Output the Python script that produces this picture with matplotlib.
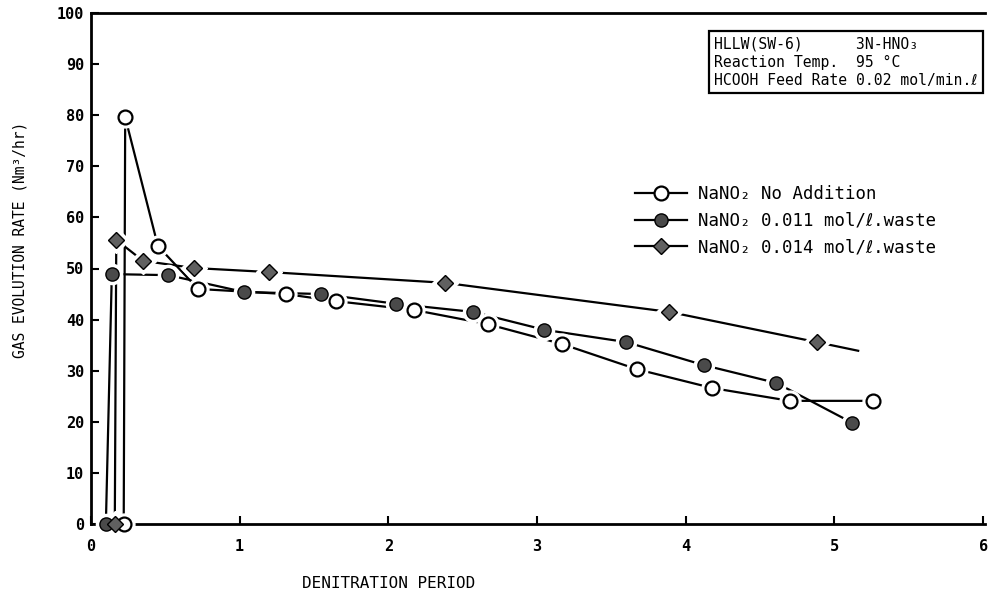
import matplotlib
matplotlib.use("Agg")
import matplotlib.pyplot as plt
from matplotlib.lines import Line2D

plt.rcParams['font.family'] = ['DejaVu Sans Mono', 'DejaVu Sans']

# ---- data ----
x_none = [0.22, 0.23, 0.45, 0.72, 1.31, 1.65, 2.17, 2.67, 3.17, 3.67, 4.18, 4.70, 5.26]
y_none = [0, 79.6, 54.4, 46.0, 45.0, 43.6, 41.9, 39.1, 35.2, 30.3, 26.6, 24.1, 24.1]

x_011 = [0.10, 0.14, 0.52, 1.03, 1.55, 2.05, 2.57, 3.05, 3.60, 4.12, 4.61, 5.12]
y_011 = [0, 48.9, 48.7, 45.4, 45.0, 43.1, 41.5, 38.0, 35.6, 31.1, 27.6, 19.8]

x_014 = [0.16, 0.17, 0.35, 0.69, 1.20, 2.38, 3.89, 4.88]
y_014 = [0, 55.6, 51.5, 50.1, 49.3, 47.2, 41.5, 35.6]
x_014_curve_end = [5.16]
y_014_curve_end = [33.9]

labels = ["NaNO\u2082 No Addition",
          "NaNO\u2082 0.011 mol/\u2113.waste",
          "NaNO\u2082 0.014 mol/\u2113.waste"]

x_ticks = [0, 1, 2, 3, 4, 5, 6]
y_ticks = [0, 10, 20, 30, 40, 50, 60, 70, 80, 90, 100]

info_lines = ["HLLW(SW-6)      3N-HNO\u2083",
              "Reaction Temp.  95 \u00b0C",
              "HCOOH Feed Rate 0.02 mol/min.\u2113"]

# ---- figure ----
fig = plt.figure(figsize=(9.88, 5.95), dpi=100)
ax = fig.add_axes([91/988, 1-524/595, (985-91)/988, (524-13)/595])
ax.set_xlim(0, 6.013)
ax.set_ylim(0, 100)

lw = 1.6
styles = [
    dict(marker='o', ms=10, mfc='white', mec='black', mew=1.6),
    dict(marker='o', ms=9.5, mfc='#4a4a4a', mec='black', mew=1.0),
    dict(marker='D', ms=8, mfc='#606060', mec='black', mew=1.0),
]

series = [(x_none, y_none), (x_011, y_011), (x_014, y_014)]
for i, ((xs, ys), st) in enumerate(zip(series, styles)):
    lx, ly = list(xs), list(ys)
    if i == 2:
        lx += x_014_curve_end
        ly += y_014_curve_end
    ax.plot(lx, ly, color='black', lw=lw, zorder=2, clip_on=False)
    # white halo to make the small gaps round the marks
    ax.plot(xs, ys, linestyle='none', marker=st['marker'], ms=st['ms'] + 5,
            mfc='white', mec='white', zorder=3, clip_on=False)
    ax.plot(xs, ys, linestyle='none', zorder=4, clip_on=False, **st)

# ---- axes styling ----
ax.spines['right'].set_visible(False)
for s in ['left', 'bottom', 'top']:
    ax.spines[s].set_linewidth(2.0)

ax.set_xticks(x_ticks)
ax.set_yticks(y_ticks)
ax.set_xticklabels([str(v) for v in x_ticks])
ax.set_yticklabels([str(v) for v in y_ticks])
ax.tick_params(axis='both', direction='in', length=6, width=1.5, labelsize=11)
ax.tick_params(axis='y', pad=5)
ax.tick_params(axis='x', pad=11)
for lab in ax.get_xticklabels() + ax.get_yticklabels():
    lab.set_fontweight('bold')

fig.text(389/988, 1-583/595, "DENITRATION PERIOD", ha='center', va='center',
         fontsize=11.5)
fig.text(20/988, 1-240/595, "GAS EVOLUTION RATE (Nm\u00b3/hr)", ha='center',
         va='center', rotation=90, fontsize=10.5)

# ---- legend ----
handles = [Line2D([], [], color='black', lw=lw, **st) for st in styles]
leg = ax.legend(handles, labels, loc='upper left',
                bbox_to_anchor=(635/988, 1-185/595), bbox_transform=fig.transFigure,
                frameon=False, fontsize=12.5, handlelength=3.0, handletextpad=0.6,
                labelspacing=0.5, borderpad=0, borderaxespad=0)

# ---- info box ----
ax.text(714/988, 1-62/595, "\n".join(info_lines), transform=fig.transFigure,
        ha='left', va='center', fontsize=10.6, linespacing=1.25,
        bbox=dict(boxstyle='square,pad=0.35', fc='white', ec='black', lw=1.6))

fig.savefig("out.png", dpi=100)
